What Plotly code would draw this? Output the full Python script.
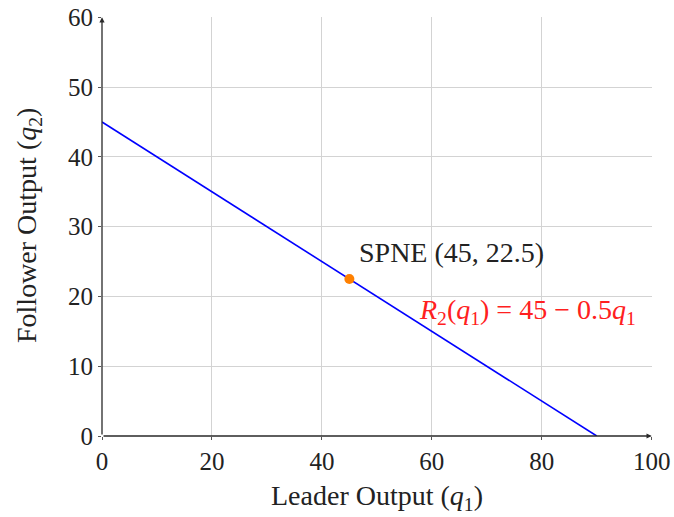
import plotly.graph_objects as go

# Data
leader_q1 = [0, 90]
follower_q2 = [45, 0]
spne_x = [45]
spne_y = [22.5]
x_ticks = [0, 20, 40, 60, 80, 100]
y_ticks = [0, 10, 20, 30, 40, 50, 60]

FONT = "Liberation Serif"
W, H = 674, 517
# plot area in screen pixels
PX0, PX1, PY0, PY1 = 102, 652, 17, 436
L, R, T, B = PX0, W - PX1, PY0, H - PY1
PW, PH = PX1 - PX0, PY1 - PY0


def px(sx):
    return (sx - PX0) / PW


def py(sy):
    return (PY1 - sy) / PH


fig = go.Figure()
fig.add_trace(go.Scatter(x=leader_q1, y=follower_q2, mode="lines",
                         line=dict(color="#0000ff", width=1.6), showlegend=False))
fig.add_trace(go.Scatter(x=spne_x, y=spne_y, mode="markers",
                         marker=dict(color="#ff8000", size=10), showlegend=False, cliponaxis=False))

# axis arrows
fig.add_annotation(x=100, y=0, ax=0, ay=0, xref="x", yref="y", axref="x", ayref="y",
                   showarrow=True, arrowhead=2, arrowsize=0.8, arrowwidth=1.3, arrowcolor="#2a2a2a", text="")
fig.add_annotation(x=0, y=60, ax=0, ay=0, xref="x", yref="y", axref="x", ayref="y",
                   showarrow=True, arrowhead=2, arrowsize=0.8, arrowwidth=1.3, arrowcolor="#2a2a2a", text="")

fig.add_annotation(x=px(357), y=py(253), xref="paper", yref="paper", xanchor="left", yanchor="middle",
                   text="SPNE (45, 22.5)", showarrow=False,
                   font=dict(family=FONT, size=28, color="#222222"))
fig.add_annotation(x=px(527), y=py(311), xref="paper", yref="paper", xanchor="center", yanchor="middle",
                   text="<i>R</i><sub>2</sub>(<i>q</i><sub>1</sub>) = 45 − 0.5<i>q</i><sub>1</sub>",
                   showarrow=False, font=dict(family=FONT, size=28, color="#ff2020"))

# axis titles
fig.add_annotation(x=px(377), y=py(497), xref="paper", yref="paper",
                   xanchor="center", yanchor="middle", showarrow=False,
                   text="Leader Output (<i>q</i><sub>1</sub>)",
                   font=dict(family=FONT, size=28, color="#222222"))
fig.add_annotation(x=px(28), y=py(226), xref="paper", yref="paper",
                   xanchor="center", yanchor="middle", showarrow=False, textangle=-90,
                   text="Follower Output (<i>q</i><sub>2</sub>)",
                   font=dict(family=FONT, size=28, color="#222222"))

fig.update_layout(
    width=W, height=H,
    margin=dict(l=L, r=R, t=T, b=B),
    plot_bgcolor="white", paper_bgcolor="white",
    font=dict(family=FONT, size=26, color="#222222"),
)
fig.update_xaxes(range=[0, 100.05], tickvals=x_ticks, showgrid=True, gridcolor="#d3d3d3", gridwidth=1.2,
                 zeroline=False, showline=False, ticks="outside", ticklen=3, tickcolor="#555555",
                 tickfont=dict(family=FONT, size=25), automargin=False, ticklabeloverflow="allow")
fig.update_yaxes(range=[0, 60.05], tickvals=y_ticks, showgrid=True, gridcolor="#d3d3d3", gridwidth=1.2,
                 zeroline=False, showline=False, ticks="outside", ticklen=3, tickcolor="#555555",
                 tickfont=dict(family=FONT, size=25), automargin=False, ticklabeloverflow="allow")

fig.write_html("out.html", config={"displayModeBar": False},
               post_script="document.body.style.margin='0';document.body.style.overflow='hidden';")
